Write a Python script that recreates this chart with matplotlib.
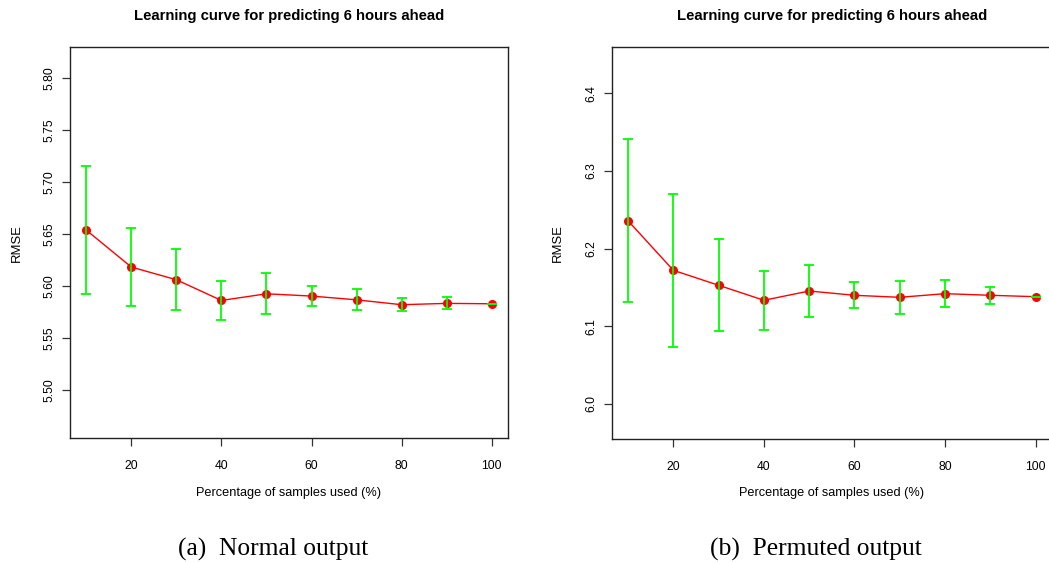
import numpy as np
import matplotlib
matplotlib.use("Agg")
import matplotlib.pyplot as plt

# ---------- DATA ----------
pct = [10, 20, 30, 40, 50, 60, 70, 80, 90, 100]

# (a) normal output
rmse_a = [5.6537, 5.6182, 5.6060, 5.5861, 5.5925, 5.5903, 5.5867, 5.5820, 5.5833, 5.5829]
upper_a = [5.7155, 5.6553, 5.6357, 5.6044, 5.6124, 5.5996, 5.5970, 5.5881, 5.5893, 5.5829]
lower_a = [5.5922, 5.5810, 5.5765, 5.5670, 5.5730, 5.5807, 5.5765, 5.5759, 5.5775, 5.5829]

# (b) permuted output
rmse_b = [6.2359, 6.1721, 6.1528, 6.1335, 6.1454, 6.1399, 6.1373, 6.1420, 6.1399, 6.1381]
upper_b = [6.3415, 6.2699, 6.2120, 6.1716, 6.1789, 6.1570, 6.1587, 6.1592, 6.1510, 6.1381]
lower_b = [6.1309, 6.0738, 6.0940, 6.0948, 6.1120, 6.1232, 6.1158, 6.1252, 6.1287, 6.1381]

yticks_a = [5.50, 5.55, 5.60, 5.65, 5.70, 5.75, 5.80]
yticks_b = [6.0, 6.1, 6.2, 6.3, 6.4]
xticks = [20, 40, 60, 80, 100]

title = "Learning curve for predicting 6 hours ahead"
xlab = "Percentage of samples used (%)"
ylab = "RMSE"
captions = ["(a)  Normal output", "(b)  Permuted output"]

W, H = 1049, 563
fig = plt.figure(figsize=(W / 100, H / 100), dpi=100)
plt.rcParams['font.family'] = ['Liberation Sans', 'DejaVu Sans']


def px_axes(x0, y0, x1, y1):
    return fig.add_axes([x0 / W, 1 - y1 / H, (x1 - x0) / W, (y1 - y0) / H])


def panel(ax, y, lo, hi, yticks, fmt, ylim):
    y = np.array(y)
    err = [y - np.array(lo), np.array(hi) - y]
    ax.plot(pct, y, color="#FF0000", lw=1.0, zorder=2)
    ax.plot(pct, y, "o", color="#FF0000", ms=5.5, mec="#FF0000", zorder=3)
    ax.errorbar(pct, y, yerr=err, fmt="none", ecolor="#00FF00", elinewidth=1.3,
                capsize=3.3, capthick=1.3, zorder=4)
    ax.set_xlim(6.4, 103.6)
    ax.set_ylim(*ylim)
    ax.set_xticks(xticks)
    ax.set_yticks(yticks)
    ax.set_yticklabels([fmt % v for v in yticks], rotation=90, va="center")
    ax.tick_params(length=5.5, width=0.9, labelsize=8.7, color="#333333")
    ax.tick_params(axis="x", pad=10.5)
    ax.tick_params(axis="y", pad=5)
    for s in ax.spines.values():
        s.set_linewidth(1.0)
        s.set_color("#222222")


ax1 = px_axes(70, 47, 508, 438)
panel(ax1, rmse_a, lower_a, upper_a, yticks_a, "%.2f", (5.454, 5.8295))

ax2 = px_axes(611.7, 47, 1052, 438.7)
panel(ax2, rmse_b, lower_b, upper_b, yticks_b, "%.1f", (5.9553, 6.4595))


def ftext(x, y, s, **kw):
    fig.text(x / W, 1 - y / H, s, ha="center", va="center", **kw)


for cx, ylx in [(289, 17), (831.8, 558)]:
    ftext(cx, 16, title, fontsize=10.7, fontweight="bold")
    ftext(cx, 493, xlab, fontsize=9.2)
    ftext(ylx, 243, ylab, fontsize=9.4, rotation=90)

ftext(273, 549, captions[0], fontsize=18.4, family=["Liberation Serif", "DejaVu Serif"])
ftext(816, 549, captions[1], fontsize=18.4, family=["Liberation Serif", "DejaVu Serif"])

fig.savefig("out.png", dpi=100)
